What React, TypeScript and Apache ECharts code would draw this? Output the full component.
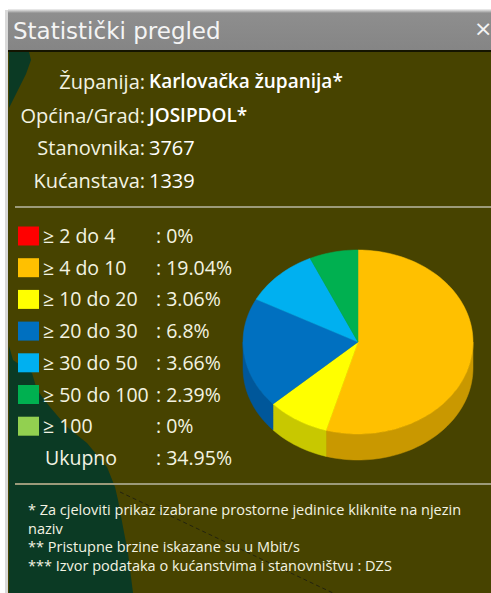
import React, { useEffect, useRef } from "react";
import * as echarts from "echarts";

const titleText = "Statistički pregled";
const infoLabels = ["Županija:", "Općina/Grad:", "Stanovnika:", "Kućanstava:"];
const infoValues = ["Karlovačka županija*", "JOSIPDOL*", "3767", "1339"];
const infoBold = [true, true, false, false];

const speedClasses = ["≥ 2 do 4", "≥ 4 do 10", "≥ 10 do 20", "≥ 20 do 30", "≥ 30 do 50", "≥ 50 do 100", "≥ 100"];
const shares = [0, 19.04, 3.06, 6.8, 3.66, 2.39, 0];
const totalLabel = "Ukupno";
const totalShare = 34.95;
const classColors = ["#ff0000", "#ffc000", "#ffff00", "#0070c0", "#00b0f0", "#00b050", "#92d050"];
const sideColors = ["#b00000", "#c99800", "#c8c800", "#00579a", "#008cc0", "#008a40", "#70a838"];

const footnotes = [
  "* Za cjeloviti prikaz izabrane prostorne jedinice kliknite na njezin",
  "naziv",
  "** Pristupne brzine iskazane su u Mbit/s",
  "*** Izvor podataka o kućanstvima i stanovništvu : DZS",
];

const OLIVE = "#474300";
const DARK = "#0b3a24";
const TXT = "#f3f3e2";
const FONT = "'Open Sans', sans-serif";

const PIE = { cx: 358, cy: 342, rx: 115, ry: 92, depth: 26 };

function sliceAngles(idx: number) {
  const sum = shares.reduce((a, b) => a + b, 0);
  let before = 0;
  for (let i = 0; i < idx; i++) before += shares[i];
  const a0 = -Math.PI / 2 + (before / sum) * Math.PI * 2;
  const a1 = a0 + (shares[idx] / sum) * Math.PI * 2;
  return [a0, a1];
}

function arcPts(a0: number, a1: number, dy: number) {
  const pts: number[][] = [];
  const n = Math.max(2, Math.ceil(((a1 - a0) / (Math.PI * 2)) * 180));
  for (let k = 0; k <= n; k++) {
    const a = a0 + ((a1 - a0) * k) / n;
    pts.push([PIE.cx + PIE.rx * Math.cos(a), PIE.cy + PIE.ry * Math.sin(a) + dy]);
  }
  return pts;
}

export default function App() {
  const ref = useRef<HTMLDivElement>(null);
  useEffect(() => {
    if (!ref.current) return;
    const chart = echarts.init(ref.current, undefined, { renderer: "svg" });

    const graphics: any[] = [];
    // frame
    graphics.push({ type: "rect", shape: { x: 5, y: 10, width: 4, height: 583 }, style: { fill: "#d9d9d9" }, z: 0 });
    graphics.push({ type: "rect", shape: { x: 8, y: 12, width: 483, height: 581 }, style: { fill: OLIVE }, z: 0 });
    graphics.push({
      type: "rect",
      shape: { x: 8, y: 9, width: 483, height: 41 },
      style: {
        fill: new echarts.graphic.LinearGradient(0, 0, 0, 1, [
          { offset: 0, color: "#f2f2f2" },
          { offset: 0.1, color: "#8e8e8e" },
          { offset: 1, color: "#858585" },
        ]),
      },
      z: 1,
    });
    graphics.push({ type: "rect", shape: { x: 8, y: 50, width: 483, height: 2 }, style: { fill: "#141400" }, z: 1 });
    // map fragments
    graphics.push({
      type: "polygon",
      shape: { points: [[9, 52], [29, 52], [31, 60], [26, 74], [17, 92], [9, 108]] },
      style: { fill: DARK },
      z: 1,
    });
    graphics.push({
      type: "polygon",
      shape: {
        points: [[9, 346], [13, 360], [32, 373], [37, 390], [50, 407], [67, 427], [87, 443], [107, 467], [115, 487], [118, 500], [123, 527], [128, 553], [133, 593], [9, 593]],
      },
      style: { fill: DARK },
      z: 1,
    });
    graphics.push({
      type: "line",
      shape: { x1: 120, y1: 492, x2: 333, y2: 593 },
      style: { stroke: "#23230f", lineWidth: 1, lineDash: [4, 3] },
      z: 1,
    });
    // separators
    [207, 484].forEach((y) =>
      graphics.push({ type: "line", shape: { x1: 15, y1: y, x2: 491, y2: y }, style: { stroke: "#9c9a7a", lineWidth: 2 }, z: 2 })
    );
    // title
    graphics.push({
      type: "text",
      x: 13,
      y: 31,
      style: { text: titleText, fill: "#f4f4f4", font: "23px 'DejaVu Sans', Verdana, sans-serif", textAlign: "left", textVerticalAlign: "middle" },
      z: 3,
    });
    graphics.push({
      type: "text",
      x: 474,
      y: 28,
      style: { text: "×", fill: "#f4f4f4", font: "22px 'DejaVu Sans', sans-serif", textAlign: "left", textVerticalAlign: "middle" },
      z: 3,
    });
    // info
    const infoY = [81, 115, 147, 180];
    infoLabels.forEach((lab, i) => {
      graphics.push({
        type: "text",
        x: 145,
        y: infoY[i],
        style: { text: lab, fill: TXT, font: `20px ${FONT}`, textAlign: "right", textVerticalAlign: "middle" },
        z: 3,
      });
      graphics.push({
        type: "text",
        x: 149,
        y: infoY[i],
        style: {
          text: infoValues[i],
          fill: "#ffffff",
          font: `${infoBold[i] ? "600 " : ""}${infoBold[i] ? 19 : 20}px ${FONT}`,
          textAlign: "left",
          textVerticalAlign: "middle",
        },
        z: 3,
      });
    });
    // legend
    const rowH = 31.7;
    const LF = `19.5px ${FONT}`;
    speedClasses.forEach((lab, i) => {
      const yc = 235.5 + rowH * i;
      graphics.push({ type: "rect", shape: { x: 18, y: yc - 9, width: 21, height: 19 }, style: { fill: classColors[i] }, z: 3 });
      graphics.push({
        type: "text",
        x: 43,
        y: yc,
        style: { text: lab, fill: TXT, font: LF, textAlign: "left", textVerticalAlign: "middle" },
        z: 3,
      });
      graphics.push({
        type: "text",
        x: 156,
        y: yc,
        style: { text: `: ${shares[i]}%`, fill: TXT, font: LF, textAlign: "left", textVerticalAlign: "middle" },
        z: 3,
      });
    });
    const yt = 235.5 + rowH * speedClasses.length;
    graphics.push({
      type: "text",
      x: 45,
      y: yt,
      style: { text: totalLabel, fill: TXT, font: LF, textAlign: "left", textVerticalAlign: "middle" },
      z: 3,
    });
    graphics.push({
      type: "text",
      x: 156,
      y: yt,
      style: { text: `: ${totalShare}%`, fill: TXT, font: LF, textAlign: "left", textVerticalAlign: "middle" },
      z: 3,
    });
    // footnotes
    const footY = [509.5, 528, 546.5, 565];
    footnotes.forEach((t, i) =>
      graphics.push({
        type: "text",
        x: 28,
        y: footY[i],
        style: { text: t, fill: TXT, font: `14.5px ${FONT}`, textAlign: "left", textVerticalAlign: "middle" },
        z: 3,
      })
    );

    const pieData = shares.map((v, i) => ({ value: v, name: speedClasses[i] }));

    chart.setOption({
      animation: false,
      backgroundColor: "#ffffff",
      graphic: { elements: graphics },
      series: [
        {
          type: "custom",
          name: "side",
          coordinateSystem: "none",
          z: 5,
          data: pieData,
          renderItem: (params: any, api: any) => {
            const idx = params.dataIndex;
            if (!(api.value(0) > 0)) return { type: "group", children: [] };
            const [a0, a1] = sliceAngles(idx);
            const s = Math.max(a0, 0);
            const e = Math.min(a1, Math.PI);
            if (e <= s) return { type: "group", children: [] };
            const top = arcPts(s, e, 0);
            const bot = arcPts(s, e, PIE.depth).reverse();
            return {
              type: "polygon",
              shape: { points: top.concat(bot) },
              style: { fill: sideColors[idx], stroke: sideColors[idx], lineWidth: 0.5 },
            };
          },
        },
        {
          type: "custom",
          name: "top",
          coordinateSystem: "none",
          z: 6,
          data: pieData,
          renderItem: (params: any, api: any) => {
            const idx = params.dataIndex;
            if (!(api.value(0) > 0)) return { type: "group", children: [] };
            const [a0, a1] = sliceAngles(idx);
            const pts = [[PIE.cx, PIE.cy]].concat(arcPts(a0, a1, 0));
            return {
              type: "polygon",
              shape: { points: pts },
              style: { fill: classColors[idx], stroke: classColors[idx], lineWidth: 0.5 },
            };
          },
        },
      ],
    });
    return () => chart.dispose();
  }, []);
  return <div ref={ref} style={{ position: "absolute", left: 0, top: 0, width: 491, height: 593 }} />;
}
